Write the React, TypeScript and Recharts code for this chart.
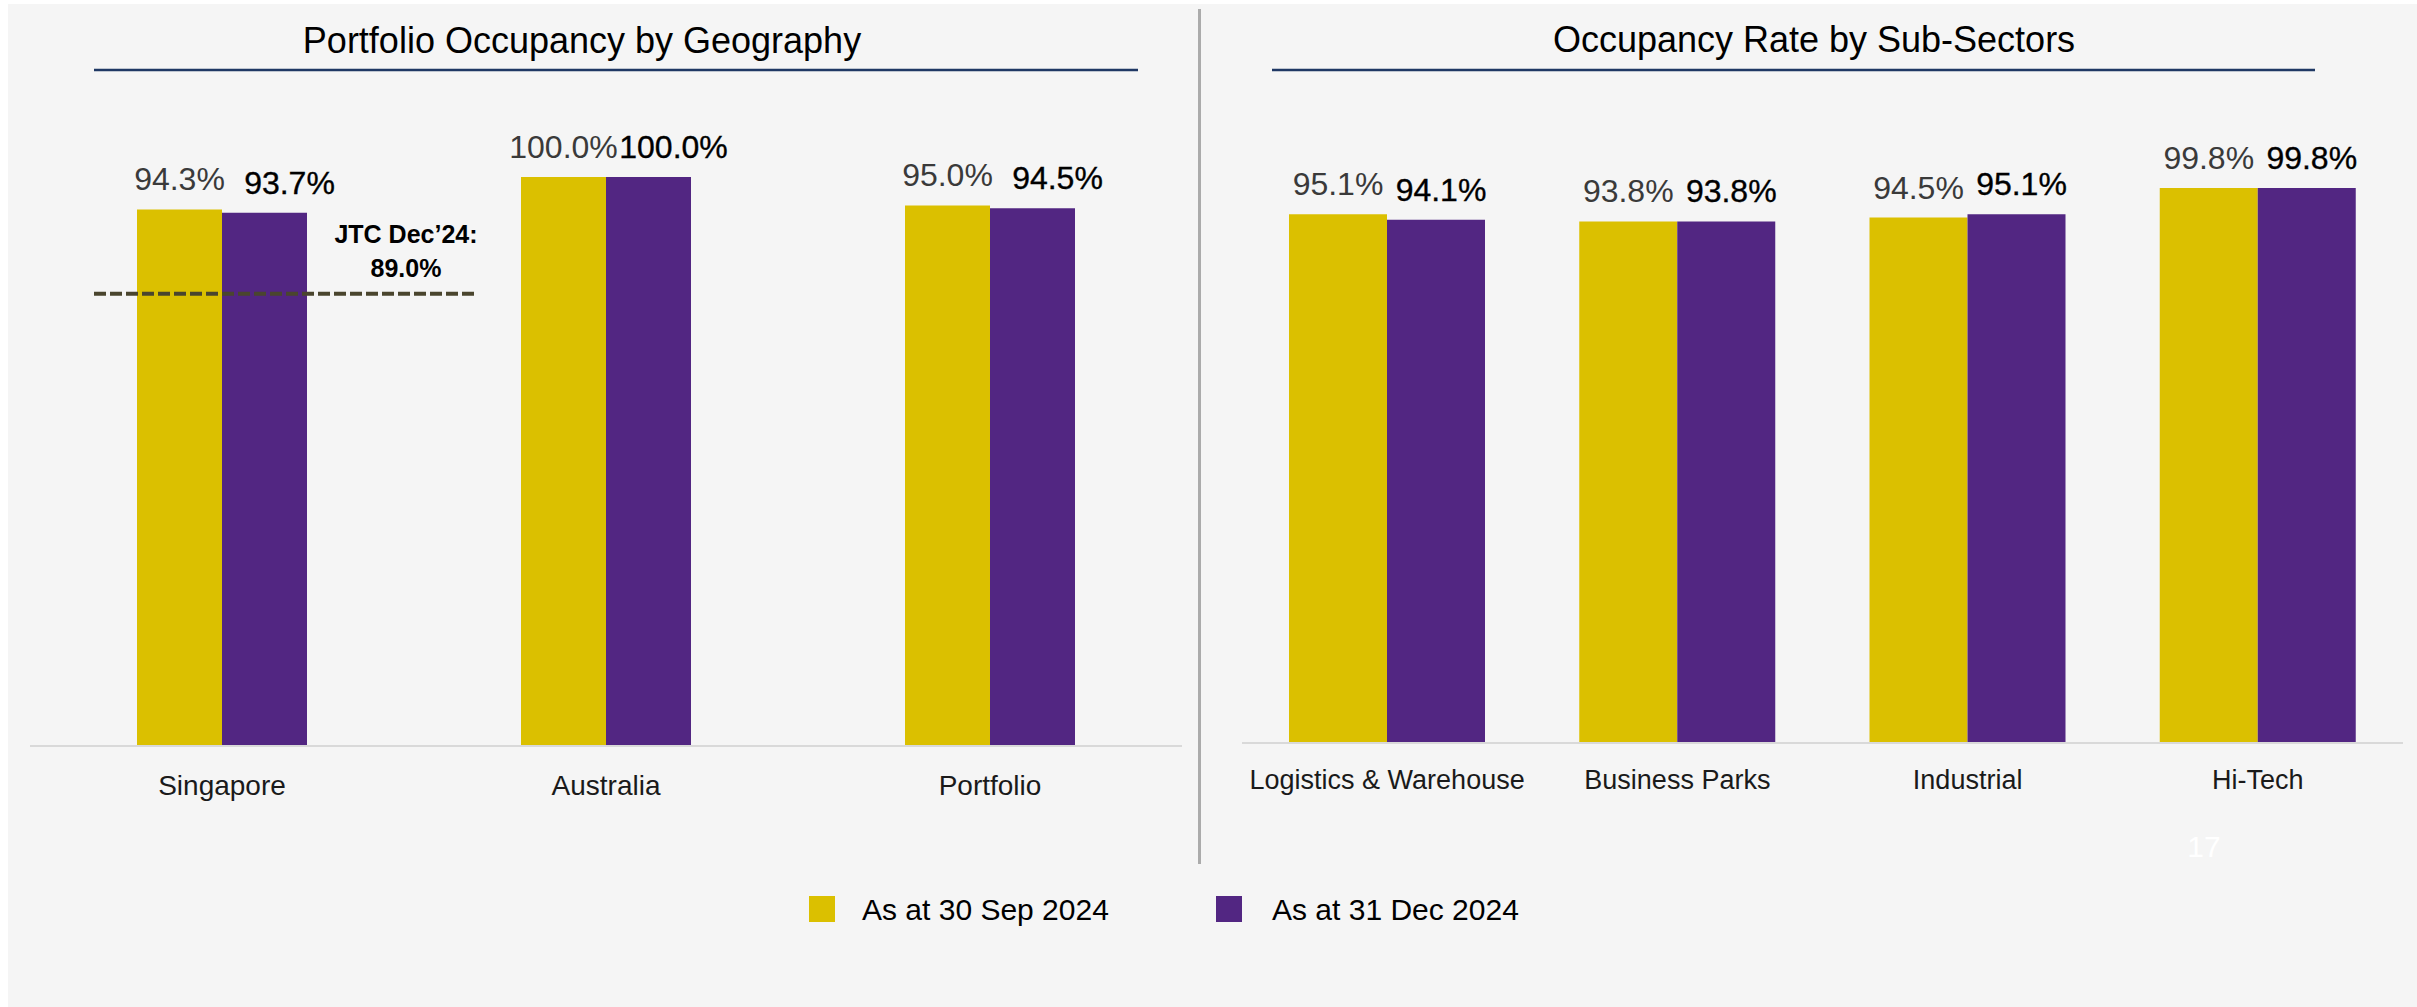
import React from "react";
import { BarChart, Bar, XAxis, YAxis, LabelList, ReferenceLine } from "recharts";

const geoCategories = ["Singapore", "Australia", "Portfolio"];
const geoSep = [94.3, 100.0, 95.0];
const geoDec = [93.7, 100.0, 94.5];

const sectorCategories = ["Logistics & Warehouse", "Business Parks", "Industrial", "Hi-Tech"];
const sectorSep = [95.1, 93.8, 94.5, 99.8];
const sectorDec = [94.1, 93.8, 95.1, 99.8];

const seriesNames = ["As at 30 Sep 2024", "As at 31 Dec 2024"];
const chartTitles = ["Portfolio Occupancy by Geography", "Occupancy Rate by Sub-Sectors"];

// JTC benchmark: text says 89.0%, the dashed line on the slide sits lower than that
const jtcText = ["JTC Dec\u201924:", "89.0%"];
const jtcLinePos = 79.5;

const pageNumber = "17";

const YELLOW = "#DBC000";
const PURPLE = "#522682";
const FONT = "'Liberation Sans', Arial, Helvetica, sans-serif";

const geoData = geoCategories.map((name, i) => ({ name, sep: geoSep[i], dec: geoDec[i] }));
const sectorData = sectorCategories.map((name, i) => ({ name, sep: sectorSep[i], dec: sectorDec[i] }));

const pct = (v: any) => `${Number(v).toFixed(1)}%`;

// value label above a bar; dx nudges the Dec labels right like on the slide
const valueLabel = (dx: number, fill: string, heavy: boolean) => (props: any) => {
  const { x, y, width, value } = props;
  return (
    <text
      x={Number(x) + Number(width) / 2 + dx}
      y={Number(y) - 19}
      textAnchor="middle"
      fontSize={32}
      fill={fill}
      stroke={heavy ? fill : "none"}
      strokeWidth={heavy ? 0.35 : 0}
      fontFamily={FONT}
    >
      {pct(value)}
    </text>
  );
};

const JtcLine = (props: any) => {
  const { x1, y1 } = props;
  const sx = Number(x1) + 64;
  const ex = Number(x1) + 445;
  const y = Number(y1);
  const cx = Number(x1) + 376;
  return (
    <g>
      <line x1={sx} x2={ex} y1={y} y2={y} stroke="#4A452E" strokeWidth={4} strokeDasharray="12 4" />
      <text x={cx} y={y - 51} textAnchor="middle" fontSize={25} fontWeight="bold" fill="#000" fontFamily={FONT}>
        {jtcText[0]}
      </text>
      <text x={cx} y={y - 17} textAnchor="middle" fontSize={25} fontWeight="bold" fill="#000" fontFamily={FONT}>
        {jtcText[1]}
      </text>
    </g>
  );
};

const axisProps = (fontSize: number, margin: number) => ({
  dataKey: "name",
  interval: 0 as const,
  tickLine: false,
  tickSize: 0,
  tickMargin: margin,
  height: 60,
  axisLine: { stroke: "#D9D9D9", strokeWidth: 2 },
  tick: { fontSize, fill: "#1a1a1a", fontFamily: FONT },
});

export default function App() {
  return (
    <div style={{ position: "absolute", left: 0, top: 0, width: 2417, height: 1007, fontFamily: FONT }}>
      <div style={{ position: "absolute", left: 8, top: 4, width: 2409, height: 1003, background: "#F5F5F5" }} />

      <svg width={2417} height={1007} style={{ position: "absolute", left: 0, top: 0 }}>
        {/* titles */}
        <text x={582} y={53} textAnchor="middle" fontSize={36} fill="#000" fontFamily={FONT}>
          {chartTitles[0]}
        </text>
        <line x1={94} x2={1138} y1={70} y2={70} stroke="#1F3864" strokeWidth={2.5} />
        <text x={1814} y={52} textAnchor="middle" fontSize={36} fill="#000" fontFamily={FONT}>
          {chartTitles[1]}
        </text>
        <line x1={1272} x2={2315} y1={70} y2={70} stroke="#1F3864" strokeWidth={2.5} />

        {/* divider */}
        <line x1={1199.5} x2={1199.5} y1={9} y2={864} stroke="#ABABAB" strokeWidth={3} />

        {/* legend */}
        <rect x={809} y={896} width={26} height={26} fill={YELLOW} />
        <text x={862} y={920} fontSize={30} fill="#000" fontFamily={FONT}>
          {seriesNames[0]}
        </text>
        <rect x={1216} y={896} width={26} height={26} fill={PURPLE} />
        <text x={1272} y={920} fontSize={30} fill="#000" fontFamily={FONT}>
          {seriesNames[1]}
        </text>

        <text x={2204} y={857} textAnchor="middle" fontSize={30} fill="#FFFFFF" fontFamily={FONT}>
          {pageNumber}
        </text>
      </svg>

      <div style={{ position: "absolute", left: 20, top: 100 }}>
        <BarChart
          width={1172}
          height={706}
          data={geoData}
          margin={{ top: 77, right: 10, left: 10, bottom: 0 }}
          barGap={0}
        >
          <XAxis {...axisProps(28, 29)} />
          <YAxis hide domain={[0, 100]} />
          <Bar dataKey="sep" name={seriesNames[0]} fill={YELLOW} barSize={85} isAnimationActive={false}>
            <LabelList dataKey="sep" content={valueLabel(0, "#3a3a3a", false)} />
          </Bar>
          <Bar dataKey="dec" name={seriesNames[1]} fill={PURPLE} barSize={85} isAnimationActive={false}>
            <LabelList dataKey="dec" content={valueLabel(25, "#000", true)} />
          </Bar>
          <ReferenceLine y={jtcLinePos} ifOverflow="visible" shape={<JtcLine />} />
        </BarChart>
      </div>

      <div style={{ position: "absolute", left: 1232, top: 100 }}>
        <BarChart
          width={1181}
          height={703}
          data={sectorData}
          margin={{ top: 87, right: 10, left: 10, bottom: 0 }}
          barGap={0}
        >
          <XAxis {...axisProps(27, 27)} />
          <YAxis hide domain={[0, 100]} />
          <Bar dataKey="sep" name={seriesNames[0]} fill={YELLOW} barSize={98} isAnimationActive={false}>
            <LabelList dataKey="sep" content={valueLabel(0, "#3a3a3a", false)} />
          </Bar>
          <Bar dataKey="dec" name={seriesNames[1]} fill={PURPLE} barSize={98} isAnimationActive={false}>
            <LabelList dataKey="dec" content={valueLabel(5, "#000", true)} />
          </Bar>
        </BarChart>
      </div>
    </div>
  );
}
